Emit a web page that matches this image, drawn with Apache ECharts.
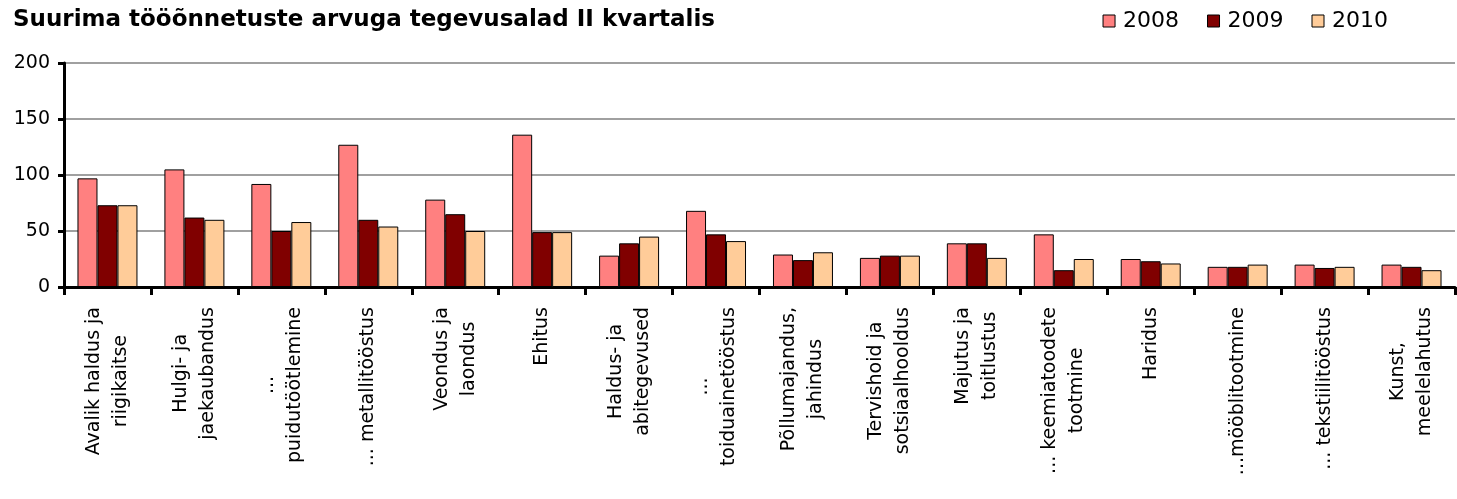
<!DOCTYPE html>
<html>
<head>
<meta charset="utf-8">
<script src="https://cdn.jsdelivr.net/npm/echarts@6/dist/echarts.min.js"></script>
<style>
  html, body { margin: 0; padding: 0; background: #fff; }
  #main { width: 1457px; height: 499px; }
</style>
</head>
<body>
<div id="main"></div>
<script>
// andmed
var categories = [
  'Avalik haldus ja\nriigikaitse',
  'Hulgi- ja\njaekaubandus',
  '...\npuidutöötlemine',
  '... metallitööstus',
  'Veondus ja\nlaondus',
  'Ehitus',
  'Haldus- ja\nabitegevused',
  '...\ntoiduainetööstus',
  'Põllumajandus,\njahindus',
  'Tervishoid ja\nsotsiaalhooldus',
  'Majutus ja\ntoitlustus',
  '... keemiatoodete\ntootmine',
  'Haridus',
  '...mööblitootmine',
  '... tekstiilitööstus',
  'Kunst,\nmeelelahutus'
];
var years = ['2008', '2009', '2010'];
var data2008 = [97, 105, 92, 127, 78, 136, 28, 68, 29, 26, 39, 47, 25, 18, 20, 20];
var data2009 = [73, 62, 50, 60, 65, 49, 39, 47, 24, 28, 39, 15, 23, 18, 17, 18];
var data2010 = [73, 60, 58, 54, 50, 49, 45, 41, 31, 28, 26, 25, 21, 20, 18, 15];
var yTicks = [0, 50, 100, 150, 200];

var colors = ['#FF8080', '#800000', '#FFCC99'];
var font = 'DejaVu Sans, Verdana, sans-serif';

var chart = echarts.init(document.getElementById('main'));

function bar(name, data, i) {
  return {
    name: name,
    type: 'bar',
    data: data,
    barGap: '0%',
    barCategoryGap: '31%',
    itemStyle: { color: colors[i], borderColor: '#000', borderWidth: 1 }
  };
}

var option = {
  animation: false,
  title: {
    text: 'Suurima tööõnnetuste arvuga tegevusalad II kvartalis',
    left: 8, top: 4,
    textStyle: { fontFamily: font, fontSize: 23, fontWeight: 'bold', color: '#000' }
  },
  legend: {
    data: years,
    right: 64, top: 5,
    itemWidth: 12, itemHeight: 12, itemGap: 28,
    icon: 'rect',
    textStyle: { fontFamily: font, fontSize: 22, color: '#000', padding: [0, 0, 0, 3] },
    itemStyle: { borderColor: '#000', borderWidth: 1 }
  },
  grid: { left: 64, right: 2, top: 63, bottom: 212 },
  xAxis: {
    type: 'category',
    data: categories,
    axisLine: { lineStyle: { color: '#000', width: 3 } },
    axisTick: { show: true, length: 8, lineStyle: { color: '#000', width: 3 } },
    axisLabel: {
      interval: 0,
      rotate: 90,
      margin: 20,
      formatter: function (v) {
        return v.split('\n').map(function (s) { return '{c|' + s + '}'; }).join('\n');
      },
      rich: {
        c: { align: 'center', fontFamily: font, fontSize: 19, lineHeight: 27, color: '#000' }
      }
    }
  },
  yAxis: {
    type: 'value',
    min: yTicks[0],
    max: yTicks[yTicks.length - 1],
    interval: 50,
    axisLine: { show: true, lineStyle: { color: '#000', width: 3 } },
    axisTick: { show: true, length: 6, lineStyle: { color: '#000', width: 3 } },
    axisLabel: { margin: 14, fontFamily: font, fontSize: 19, color: '#000' },
    splitLine: { lineStyle: { color: '#808080', width: 1.5 } }
  },
  series: [
    bar(years[0], data2008, 0),
    bar(years[1], data2009, 1),
    bar(years[2], data2010, 2)
  ]
};

chart.setOption(option);
</script>
</body>
</html>
